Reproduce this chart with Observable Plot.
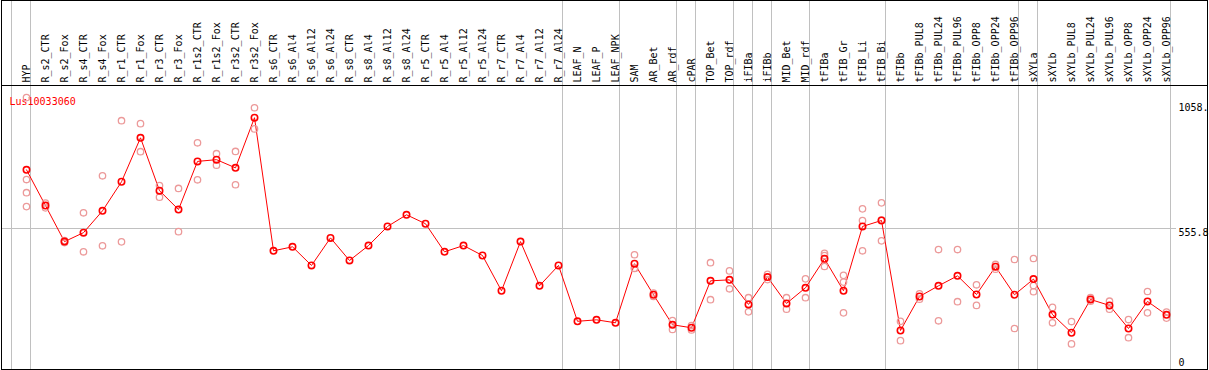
<!DOCTYPE html>
<html>
<head>
<meta charset="utf-8">
<script src="https://cdn.jsdelivr.net/npm/d3@7"></script>
<script src="https://cdn.jsdelivr.net/npm/@observablehq/plot@0.6"></script>
<style>
  html, body { margin: 0; padding: 0; background: white; }
</style>
</head>
<body>
<div id="chart"></div>
<script>
const geneName = "Lus10033060";

const categories = [
  "HYP","R_s2_CTR","R_s2_Fox","R_s4_CTR","R_s4_Fox","R_r1_CTR","R_r1_Fox","R_r3_CTR","R_r3_Fox",
  "R_r1s2_CTR","R_r1s2_Fox","R_r3s2_CTR","R_r3s2_Fox","R_s6_CTR","R_s6_Al4","R_s6_Al12","R_s6_Al24",
  "R_s8_CTR","R_s8_Al4","R_s8_Al12","R_s8_Al24","R_r5_CTR","R_r5_Al4","R_r5_Al12","R_r5_Al24",
  "R_r7_CTR","R_r7_Al4","R_r7_Al12","R_r7_Al24","LEAF_N","LEAF_P","LEAF_NPK","SAM","AR_Bet","AR_rdf",
  "cPAR","TOP_Bet","TOP_rdf","iFIBa","iFIBb","MID_Bet","MID_rdf","tFIBa","tFIB_Gr","tFIB_Li","tFIB_Bi",
  "tFIBb","tFIBb_PUL8","tFIBb_PUL24","tFIBb_PUL96","tFIBb_OPP8","tFIBb_OPP24","tFIBb_OPP96",
  "sXYLa","sXYLb","sXYLb_PUL8","sXYLb_PUL24","sXYLb_PUL96","sXYLb_OPP8","sXYLb_OPP24","sXYLb_OPP96"
];

const means = [
  792, 648, 503, 539, 627, 744, 921, 708, 632, 826, 833, 800, 1002,
  466, 482, 407, 518, 427, 487, 564, 611, 575, 462, 487, 447, 305, 503, 325, 407,
  182, 188, 176, 414, 289, 168, 156, 345, 349, 250, 360, 254, 317,
  434, 305, 564, 588, 145, 282, 325, 365, 290, 402, 289,
  352, 209, 136, 270, 246, 153, 262, 208
];

const replicates = [
  [1083, 753, 700, 644], [658, 639], [507, 499], [619, 462], [768, 486], [990, 502],
  [978, 865], [729, 682], [717, 543], [901, 752], [857, 811], [866, 732], [1042, 957],
  [], [], [], [], [], [], [], [], [], [], [], [], [], [], [], [], [], [], [],
  [450, 396, 395], [296, 282], [185, 149], [165, 147], [418, 269], [385, 313],
  [277, 220], [371, 350], [277, 231], [353, 277], [456, 447, 403], [367, 340, 216],
  [635, 588, 466], [659, 590, 506], [182, 104], [293, 271], [471, 184], [471, 261],
  [329, 246], [392, 411], [431, 153], [435, 326, 301], [238, 176], [181, 91],
  [277, 263], [263, 231], [189, 116], [302, 216], [219, 195]
];

// group boundaries: separator drawn after these column numbers
const separatorsAfter = [0, 1, 29, 32, 35, 36, 38, 39, 40, 42, 46, 53, 54, 61];

const gridValues = [555.8];
const tickValues = [1058, 555.8];
const tickLabels = ["1058.", "555.8"];
const zeroValue = 0;
const zeroLabel = "0";

const meanData = means.map((v, i) => ({col: i + 1, v}));
const repData = replicates.flatMap((arr, i) => arr.map(v => ({col: i + 1, v})));
const catData = categories.map((c, i) => ({col: i + 1, c}));

const font = "DejaVu Sans Mono";
const gray = "#c0c0c0";

const chart = Plot.plot({
  width: 1209,
  height: 370,
  marginLeft: 7,
  marginRight: 43,
  marginTop: 85,
  marginBottom: 1,
  style: {fontFamily: font, fontSize: "10px", background: "white"},
  x: {domain: [0, 61], axis: null},
  y: {domain: [-12.1, 1131.7], axis: null},
  marks: [
    Plot.ruleY(gridValues, {stroke: gray, insetLeft: -6, insetRight: -10}),
    Plot.ruleX(separatorsAfter, {x: d => d, dx: 4, stroke: gray, insetTop: -85}),
    Plot.frame({stroke: "black", insetLeft: -6, insetRight: -41, insetTop: -85}),
    Plot.frame({anchor: "top", stroke: "black", insetLeft: -6, insetRight: -41}),
    Plot.text(catData, {
      x: "col", text: "c", frameAnchor: "top", rotate: -90,
      textAnchor: "start", dx: -4, dy: -3, fill: "black", fontFamily: font, fontSize: 10
    }),
    Plot.text([geneName], {
      frameAnchor: "top-left", dx: 2, dy: 12, textAnchor: "start",
      fill: "red", fontFamily: font, fontSize: 10
    }),
    Plot.text(tickValues, {
      y: d => d, text: (d, i) => tickLabels[i], frameAnchor: "right", dx: 12,
      textAnchor: "start", lineAnchor: "top", fill: "black", fontFamily: font, fontSize: 10
    }),
    Plot.text([zeroValue], {
      y: d => d, text: () => zeroLabel, frameAnchor: "right", dx: 12,
      textAnchor: "start", lineAnchor: "bottom", fill: "black", fontFamily: font, fontSize: 10
    }),
    Plot.line(meanData, {x: "col", y: "v", stroke: "red", strokeWidth: 1}),
    Plot.dot(repData, {x: "col", y: "v", r: 3.2, stroke: "#ec9a9a", strokeWidth: 1.3, fill: "none"}),
    Plot.dot(meanData, {x: "col", y: "v", r: 3.2, stroke: "red", strokeWidth: 1.6, fill: "none"})
  ]
});

document.getElementById("chart").appendChild(chart);
</script>
</body>
</html>
